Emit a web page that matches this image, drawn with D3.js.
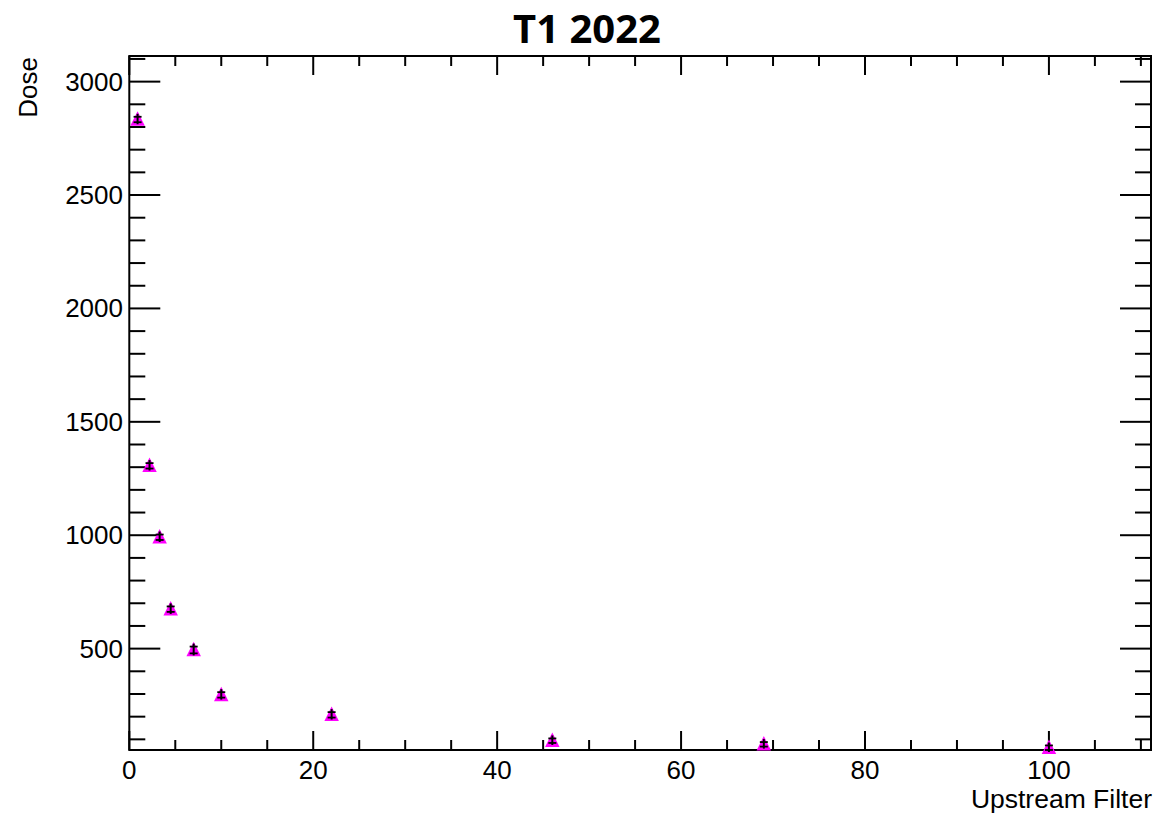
<!DOCTYPE html>
<html>
<head>
<meta charset="utf-8">
<script src="https://cdn.jsdelivr.net/npm/d3@7"></script>
<style>
  html, body { margin: 0; padding: 0; background: #fff; }
  svg { display: block; }
</style>
</head>
<body>
<script>
// ---- data ----
const titleText = "T1 2022";
const xTitle = "Upstream Filter";
const yTitle = "Dose";
const filterValues = [0.9, 2.2, 3.3, 4.5, 7, 10, 22, 46, 69, 100];
const doseValues = [2833, 1306, 991, 674, 494, 296, 208, 94, 78, 63];
const doseErrors = [12, 12, 12, 12, 15, 12, 12, 10, 10, 10];
const xTickValues = [0, 20, 40, 60, 80, 100];
const yTickValues = [500, 1000, 1500, 2000, 2500, 3000];

(function () {
const W = 1155, H = 813;
const pLeft = 129.3, pRight = 1151, pTop = 56, pBottom = 750;

const svg = d3.select("body").append("svg").attr("width", W).attr("height", H);

const x = d3.scaleLinear().domain([0, 111.1]).range([pLeft, pRight]);
const y = d3.scaleLinear().domain([53, 3113]).range([pBottom, pTop]);

const font = "'Liberation Sans', Arial, Helvetica, sans-serif";

// frame
svg.append("rect").attr("x", pLeft).attr("y", pTop)
  .attr("width", pRight - pLeft).attr("height", pBottom - pTop)
  .attr("fill", "none").attr("stroke", "#000").attr("stroke-width", 2);

// ticks
const xMinor = d3.range(0, 111, 5).filter(v => v % 20 !== 0);
const yMinor = d3.range(100, 3113, 100).filter(v => v % 500 !== 0);

function tickLines(g, vals, len, scale, orient) {
  vals.forEach(v => {
    if (orient === "x") {
      const px = scale(v);
      g.append("line").attr("x1", px).attr("x2", px).attr("y1", pBottom).attr("y2", pBottom - len);
      g.append("line").attr("x1", px).attr("x2", px).attr("y1", pTop).attr("y2", pTop + len);
    } else {
      const py = scale(v);
      g.append("line").attr("y1", py).attr("y2", py).attr("x1", pLeft).attr("x2", pLeft + len);
      g.append("line").attr("y1", py).attr("y2", py).attr("x1", pRight).attr("x2", pRight - len);
    }
  });
}
const tg = svg.append("g").attr("stroke", "#000").attr("stroke-width", 2);
tickLines(tg, xTickValues, 19, x, "x");
tickLines(tg, xMinor, 10, x, "x");
tickLines(tg, yTickValues, 31, y, "y");
tickLines(tg, yMinor, 16, y, "y");

// tick labels
svg.append("g").selectAll("text").data(xTickValues).join("text")
  .attr("x", d => x(d)).attr("y", 779)
  .attr("text-anchor", "middle")
  .attr("font-family", font).attr("font-size", 26)
  .text(d => d);

svg.append("g").selectAll("text").data(yTickValues).join("text")
  .attr("x", 123).attr("y", d => y(d) + 9)
  .attr("text-anchor", "end")
  .attr("font-family", font).attr("font-size", 26)
  .text(d => d);

// axis titles
svg.append("text").attr("x", 1152).attr("y", 808)
  .attr("text-anchor", "end")
  .attr("font-family", font).attr("font-size", 26.5)
  .text(xTitle);

svg.append("text")
  .attr("transform", "translate(37,57) rotate(-90)")
  .attr("text-anchor", "end")
  .attr("font-family", font).attr("font-size", 26)
  .text(yTitle);

// title
svg.append("text").attr("x", 587).attr("y", 43)
  .attr("text-anchor", "middle")
  .attr("font-family", "'Open Sans', sans-serif").attr("font-weight", "bold")
  .attr("font-size", 40)
  .text(titleText);

// data points
const pts = filterValues.map((f, i) => ({ f, d: doseValues[i], e: doseErrors[i] }));
const pg = svg.append("g");
function triPath(cx, cy, s) {
  const p = d3.path();
  p.moveTo(cx, cy - s / 2);
  p.lineTo(cx + s / 2, cy + s / 2);
  p.lineTo(cx - s / 2, cy + s / 2);
  p.closePath();
  return p.toString();
}
pts.forEach(p => {
  const px = x(p.f), py = y(p.d);
  pg.append("path").attr("d", triPath(px, py - 1, 14.5)).attr("fill", "#ff00ff");
  const yt = y(p.d + p.e), yb = y(p.d - p.e);
  pg.append("line").attr("x1", px).attr("x2", px).attr("y1", yt - 3).attr("y2", yb + 2)
    .attr("stroke", "#000").attr("stroke-width", 2);
  pg.append("line").attr("x1", px - 4).attr("x2", px + 4).attr("y1", yt).attr("y2", yt)
    .attr("stroke", "#000").attr("stroke-width", 1.8);
  pg.append("line").attr("x1", px - 4).attr("x2", px + 4).attr("y1", yb).attr("y2", yb)
    .attr("stroke", "#000").attr("stroke-width", 1.8);
});
})();
</script>
</body>
</html>
